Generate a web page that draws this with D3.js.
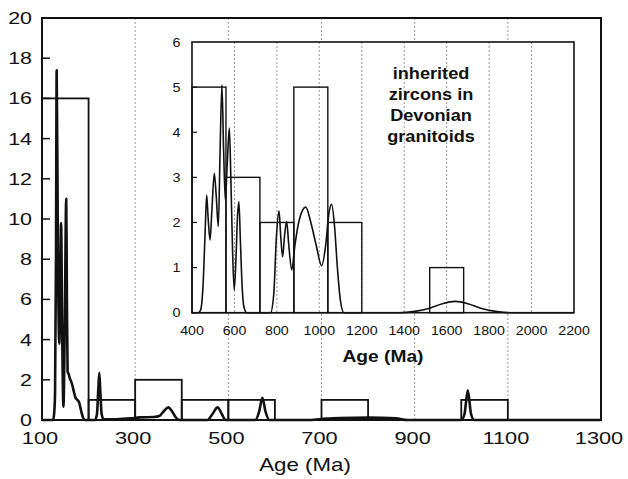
<!DOCTYPE html>
<html><head><meta charset="utf-8">
<script src="https://cdn.jsdelivr.net/npm/d3@7"></script>
<style>body{margin:0;background:#fff}svg{display:block}text{font-family:"Liberation Sans",Arial,sans-serif;fill:#111}</style>
</head><body><svg id="c" width="628" height="479"></svg>
<script>
// ---- data ----
const mainBinStarts = [100,200,300,400,500,600,700,800,900,1000,1100,1200];
const mainCounts    = [16,1,2,1,1,0,1,0,0,1,0,0];
const mainBinWidth = 100;
const mainCurveAge = [100,118,124,126,128,130,131.5,134,137,139,141,143.5,146,149,152,153.5,155,157,160,163,166,169,172,176,180,184,188,192,214,218,221,223,225,228,232,260,290,310,340,352,362,371,380,388,395,455,466,477,486,494,558,566,573,580,588,670,700,740,800,860,885,1000,1007,1014,1021,1028,1300];
const mainCurveVal = [0,0,0,0.3,1.3,8,17.4,9,3.8,6.5,9.8,4,0.66,5,11,6,2.4,2.3,2.05,1.9,1.65,1.35,1.1,1.0,0.85,0.45,0.12,0,0,0.3,1.6,2.35,1.5,0.3,0.05,0.04,0.08,0.13,0.15,0.2,0.45,0.63,0.4,0.1,0,0,0.3,0.63,0.3,0,0,0.4,1.1,0.4,0,0,0.05,0.1,0.12,0.08,0,0,0.3,1.48,0.3,0,0];
const mainXTicks = [100,300,500,700,900,1100,1300];
const mainYTicks = [0,2,4,6,8,10,12,14,16,18,20];
const mainGrid = [300,500,700,900,1100];

const insetBinStarts = [400,560,720,880,1040,1200,1360,1520,1680,1840,2000];
const insetCounts    = [5,3,2,5,2,0,0,1,0,0,0];
const insetBinWidth = 160;
const insetCurveAge = [400,430,440,452,462,469,476,485,494,505,514,524,532,541,549,557,566,576,583,591,599,608,614,621,628,636,645,658,770,785,798,810,818,827,836,846,856,870,885,905,936,960,985,1011,1030,1045,1058,1072,1085,1100,1116,1380,1450,1520,1580,1640,1700,1760,1830,1900,2200];
const insetCurveVal = [0,0,0.05,0.6,1.8,2.61,2.1,1.61,2.3,3.09,2.6,1.91,3.5,5.05,3.6,2.5,3.3,4.09,3.0,1.4,0.5,1.3,2.1,2.46,1.6,0.6,0.12,0,0,0.4,1.7,2.26,1.7,1.24,1.7,2.02,1.5,0.95,1.5,2.05,2.34,2.0,1.5,1.04,1.5,2.2,2.4,1.9,1.0,0.25,0,0,0.03,0.1,0.2,0.25,0.2,0.1,0.03,0,0];
const insetXTicks = [400,600,800,1000,1200,1400,1600,1800,2000,2200];
const insetYTicks = [0,1,2,3,4,5,6];
const insetGrid = [600,800,1000,1200,1400,1600,1800,2000];
const insetNote = ["inherited","zircons in","Devonian","granitoids"];

// ---- drawing ----
const svg = d3.select("#c");
const x = d3.scaleLinear().domain([100,1300]).range([42,601]);
const y = d3.scaleLinear().domain([0,20]).range([420,18]);
const xi = d3.scaleLinear().domain([400,2200]).range([192,574]);
const yi = d3.scaleLinear().domain([0,6]).range([312.7,42]);

function txt(g, tx, ty, s, size, sx, anchor, weight){
  return g.append("text").attr("transform",`translate(${tx},${ty}) scale(${sx},1)`)
    .attr("text-anchor",anchor).attr("font-size",size).attr("font-weight",weight||"normal").text(s);
}

// main grid
svg.append("g").selectAll("line").data(mainGrid).join("line")
  .attr("x1",d=>x(d)).attr("x2",d=>x(d)).attr("y1",y(20)).attr("y2",y(0))
  .attr("stroke","#9a9a9a").attr("stroke-width",1).attr("stroke-dasharray","2,2");

// main bars
svg.append("g").selectAll("rect").data(mainBinStarts.map((s,i)=>({s,c:mainCounts[i]})).filter(d=>d.c>0)).join("rect")
  .attr("x",d=>x(d.s)).attr("width",d=>x(d.s+mainBinWidth)-x(d.s))
  .attr("y",d=>y(d.c)).attr("height",d=>y(0)-y(d.c))
  .attr("fill","none").attr("stroke","#111").attr("stroke-width",1.8);

// main curve
const mainPts = mainCurveAge.map((a,i)=>[a,mainCurveVal[i]]);
svg.append("path").datum(mainPts)
  .attr("d",d3.line().x(d=>x(d[0])).y(d=>y(d[1])).curve(d3.curveMonotoneX))
  .attr("fill","none").attr("stroke","#111").attr("stroke-width",2.6).attr("stroke-linejoin","round");

// main frame
svg.append("rect").attr("x",x(100)).attr("y",y(20)).attr("width",x(1300)-x(100)).attr("height",y(0)-y(20))
  .attr("fill","none").attr("stroke","#111").attr("stroke-width",2);
// main y ticks
svg.append("g").selectAll("line").data(mainYTicks.filter(d=>d>0&&d<20)).join("line")
  .attr("x1",x(100)).attr("x2",x(100)+8).attr("y1",d=>y(d)).attr("y2",d=>y(d))
  .attr("stroke","#111").attr("stroke-width",1.5);
const gl = svg.append("g");
mainYTicks.forEach(v=>txt(gl,32,y(v)+6,String(v),16.5,1.3,"end"));
mainXTicks.forEach(v=>txt(gl,x(v)-2,443.5,String(v),16.5,1.32,"middle"));
txt(gl,305,471,"Age (Ma)",18,1.24,"middle");

// inset
const ins = svg.append("g");
ins.append("rect").attr("x",xi(400)).attr("y",yi(6)).attr("width",xi(2200)-xi(400)).attr("height",yi(0)-yi(6)).attr("fill","#fff");
ins.append("g").selectAll("line").data(insetGrid).join("line")
  .attr("x1",d=>xi(d)).attr("x2",d=>xi(d)).attr("y1",yi(6)).attr("y2",yi(0))
  .attr("stroke","#9a9a9a").attr("stroke-width",1).attr("stroke-dasharray","2,2");
ins.append("g").selectAll("rect").data(insetBinStarts.map((s,i)=>({s,c:insetCounts[i]})).filter(d=>d.c>0)).join("rect")
  .attr("x",d=>xi(d.s)).attr("width",d=>xi(d.s+insetBinWidth)-xi(d.s))
  .attr("y",d=>yi(d.c)).attr("height",d=>yi(0)-yi(d.c))
  .attr("fill","none").attr("stroke","#111").attr("stroke-width",1.4);
const insetPts = insetCurveAge.map((a,i)=>[a,insetCurveVal[i]]);
ins.append("path").datum(insetPts)
  .attr("d",d3.line().x(d=>xi(d[0])).y(d=>yi(d[1])).curve(d3.curveMonotoneX))
  .attr("fill","none").attr("stroke","#111").attr("stroke-width",1.6);
ins.append("rect").attr("x",xi(400)).attr("y",yi(6)).attr("width",xi(2200)-xi(400)).attr("height",yi(0)-yi(6))
  .attr("fill","none").attr("stroke","#111").attr("stroke-width",1.6);
ins.append("g").selectAll("line").data(insetYTicks.filter(d=>d>0&&d<6)).join("line")
  .attr("x1",xi(400)).attr("x2",xi(400)+5).attr("y1",d=>yi(d)).attr("y2",d=>yi(d))
  .attr("stroke","#111").attr("stroke-width",1.2);
insetYTicks.forEach(v=>txt(ins,180.5,yi(v)+4.5,String(v),12,1.2,"end"));
insetXTicks.forEach(v=>txt(ins,xi(v),335,String(v),13.5,1.05,"middle"));
txt(ins,383,362,"Age (Ma)",16,1.2,"middle","bold");
insetNote.forEach((s,i)=>txt(ins,431,79+i*21,s,16.5,1.1,"middle","bold"));
</script></body></html>
